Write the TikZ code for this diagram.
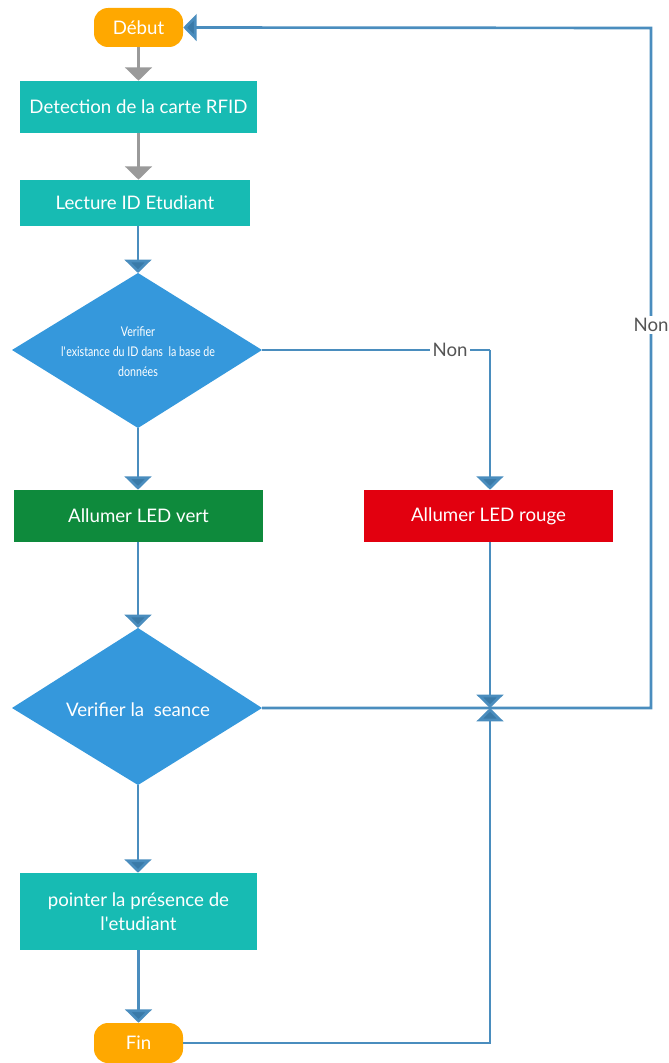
\documentclass[tikz,border=0pt]{standalone}
\usepackage{fontspec}
\setmainfont{Lato}
\newfontfamily\condlato[FakeStretch=0.8]{Lato}
\usetikzlibrary{arrows.meta,shapes.geometric,calc}
\definecolor{orng}{HTML}{FFA800}
\definecolor{teal}{HTML}{17BBB3}
\definecolor{dblue}{HTML}{3598DC}
\definecolor{grn}{HTML}{0E8A3C}
\definecolor{rd}{HTML}{E2000F}
\definecolor{lblue}{HTML}{4A8DBE}
\definecolor{ablue}{HTML}{3A7AA8}
\definecolor{gry}{HTML}{9A9A9A}
\definecolor{txtg}{HTML}{555555}
\tikzset{
  terminal/.style={rounded corners=10.5pt, fill=orng, text=white, font=\fontsize{14}{18}\selectfont, inner sep=0pt},
  procbox/.style={fill=#1, text=white, font=\fontsize{14}{18}\selectfont, inner sep=0pt, align=center},
  conn/.style={line width=2pt, draw=lblue},
  garr/.style={line width=2pt, draw=gry, -{Triangle[width=20pt,length=10pt,fill=gry]}},
  barr/.style={line width=2pt, draw=lblue, -{Triangle[width=20pt,length=10pt,fill=ablue]}},
  lbl/.style={fill=white, text=txtg, font=\fontsize{14}{16}\selectfont, inner sep=2pt}
}
\begin{document}
\begin{tikzpicture}[x=0.75pt,y=-0.75pt]
\useasboundingbox (0,0) rectangle (668,1063);
% nodes
\node[terminal, minimum width=89*0.75pt, minimum height=39*0.75pt] (debut) at (138.5,27.5) {Début};
\node[procbox=teal, minimum width=237*0.75pt, minimum height=52*0.75pt] (detect) at (138.5,107) {Detection de la carte RFID};
\node[procbox=teal, minimum width=230*0.75pt, minimum height=46*0.75pt] (lecture) at (135,203) {Lecture ID Etudiant};
\fill[dblue] (138,273) coordinate (d1t) -- (262,350) coordinate (d1r) -- (138,428) coordinate (d1b) -- (12,350) coordinate (d1l) -- cycle;
\node[text=white, font=\condlato\fontsize{10}{15}\selectfont, align=center] (d1) at (138,352) {Verifier\\l\textquotesingle existance du ID dans\ \ la base de\\données};
\node[procbox=grn, minimum width=249*0.75pt, minimum height=52*0.75pt] (vert) at (138.5,516) {Allumer LED vert};
\node[procbox=rd, minimum width=249*0.75pt, minimum height=52*0.75pt] (rouge) at (488.5,516) {Allumer LED rouge};
\fill[dblue] (138,628) coordinate (d2t) -- (262,708) coordinate (d2r) -- (138,785) coordinate (d2b) -- (12,708) coordinate (d2l) -- cycle;
\node[text=white, font=\fontsize{14}{18}\selectfont] (d2) at (138,710) {Verifier la\ \ seance};
\node[procbox=teal, minimum width=237*0.75pt, minimum height=77*0.75pt] (pointer) at (138.5,911.5) {pointer la présence de\\l\textquotesingle etudiant};
\node[terminal, minimum width=89*0.75pt, minimum height=40*0.75pt] (fin) at (138.5,1043) {Fin};
\coordinate (j) at (490,708);
\coordinate (nr) at (490,350);
\coordinate (tr) at (651,28);
% connectors
\draw[garr] (debut.south) -- (detect.north);
\draw[garr] (detect.south) -- (lecture.north -| detect.south);
\draw[barr] (lecture.south -| d1t) -- (d1t);
\draw[conn] (d1r) -- (nr);
\draw[barr] (nr) -- (rouge.north -| nr);
\node[lbl] (non1) at (450,350) {Non};
\draw[barr] (d1b) -- (vert.north -| d1b);
\draw[barr] (vert.south -| d2t) -- (d2t);
\draw[barr] (rouge.south -| j) -- (j);
\draw[barr] (d2r) -- (d2r -| tr) -- (tr) -- (debut.east);
\node[lbl] (non2) at (651,325) {Non};
\draw[barr] (d2b) -- (pointer.north -| d2b);
\draw[barr] (pointer.south) -- (fin.north);
\draw[barr] (fin.east) -| (j);
\end{tikzpicture}
\end{document}
